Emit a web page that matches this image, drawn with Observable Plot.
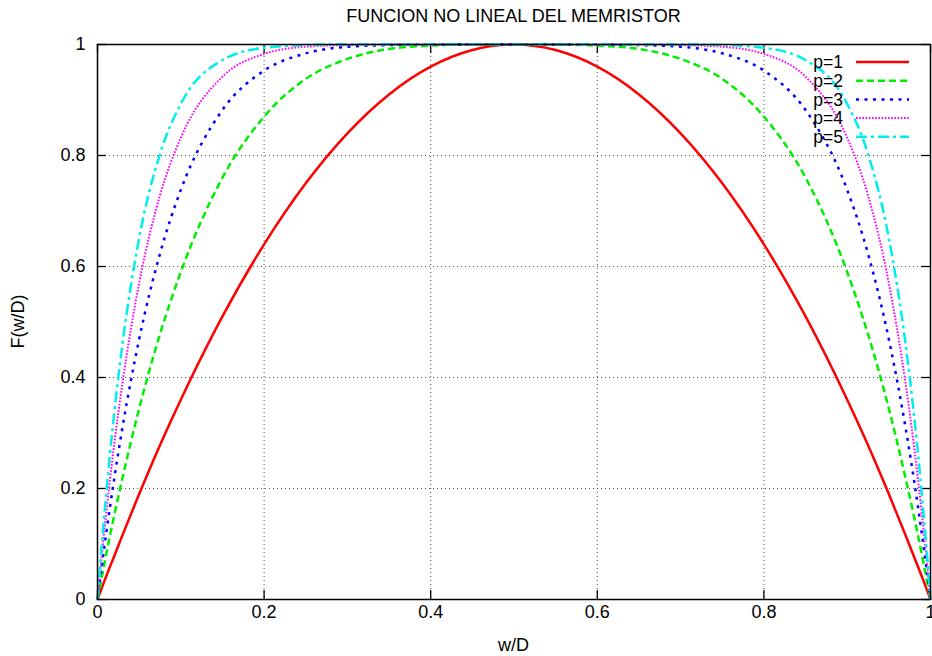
<!DOCTYPE html>
<html>
<head>
<meta charset="utf-8">
<script src="https://cdn.jsdelivr.net/npm/d3@7"></script>
<script src="https://cdn.jsdelivr.net/npm/@observablehq/plot@0.6"></script>
<style>
  html, body { margin: 0; padding: 0; background: #fff; }
  #chart { position: relative; width: 932px; height: 656px; }
  svg { font-family: "Liberation Sans", Arial, sans-serif; }
</style>
</head>
<body>
<div id="chart"></div>
<script>
// ---- data ----
const title = "FUNCION NO LINEAL DEL MEMRISTOR";
const xLabel = "w/D";
const yLabel = "F(w/D)";
const seriesNames = ["p=1", "p=2", "p=3", "p=4", "p=5"];
const xTicks = [0, 0.2, 0.4, 0.6, 0.8, 1];
const yTicks = [0, 0.2, 0.4, 0.6, 0.8, 1];
const gridTicks = [0.2, 0.4, 0.6, 0.8];

const xs = [0, 0.005, 0.01, 0.02, 0.03, 0.05, 0.075, 0.1, 0.15, 0.2, 0.25, 0.3, 0.35, 0.4, 0.45, 0.5,
            0.55, 0.6, 0.65, 0.7, 0.75, 0.8, 0.85, 0.9, 0.925, 0.95, 0.97, 0.98, 0.99, 0.995, 1];
const p1 = [0, 0.020, 0.040, 0.078, 0.116, 0.190, 0.278, 0.360, 0.510, 0.640, 0.750, 0.840, 0.910, 0.960, 0.990, 1,
            0.990, 0.960, 0.910, 0.840, 0.750, 0.640, 0.510, 0.360, 0.278, 0.190, 0.116, 0.078, 0.040, 0.020, 0];
const p2 = [0, 0.039, 0.078, 0.151, 0.219, 0.344, 0.478, 0.590, 0.760, 0.870, 0.938, 0.974, 0.992, 0.998, 1.000, 1,
            1.000, 0.998, 0.992, 0.974, 0.938, 0.870, 0.760, 0.590, 0.478, 0.344, 0.219, 0.151, 0.078, 0.039, 0];
const p3 = [0, 0.059, 0.114, 0.217, 0.310, 0.469, 0.623, 0.738, 0.882, 0.953, 0.984, 0.996, 0.999, 1.000, 1.000, 1,
            1.000, 1.000, 0.999, 0.996, 0.984, 0.953, 0.882, 0.738, 0.623, 0.469, 0.310, 0.217, 0.114, 0.059, 0];
const p4 = [0, 0.077, 0.149, 0.279, 0.390, 0.570, 0.728, 0.832, 0.942, 0.983, 0.996, 0.999, 1.000, 1.000, 1.000, 1,
            1.000, 1.000, 1.000, 0.999, 0.996, 0.983, 0.942, 0.832, 0.728, 0.570, 0.390, 0.279, 0.149, 0.077, 0];
const p5 = [0, 0.096, 0.183, 0.335, 0.461, 0.651, 0.803, 0.893, 0.972, 0.994, 0.999, 1.000, 1.000, 1.000, 1.000, 1,
            1.000, 1.000, 1.000, 1.000, 0.999, 0.994, 0.972, 0.893, 0.803, 0.651, 0.461, 0.335, 0.183, 0.096, 0];
const seriesValues = [p1, p2, p3, p4, p5];

// ---- styles ----
const colors = ["#ff0000", "#00ee00", "#0000ff", "#ff00ff", "#00eeee"];
const dashes = [null, "7,4", "3,5.5", "1.6,1.6", "11,4,3,4"];
const widths = [2.5, 2.5, 2.5, 2, 2.5];
const FS = 18;

const W = 932, H = 656;
const M = {top: 44, right: 2, bottom: 57, left: 97};
const innerH = H - M.top - M.bottom;
const innerW = W - M.left - M.right;

const data = [];
seriesNames.forEach((name, i) => {
  xs.forEach((x, j) => data.push({series: name, x, y: seriesValues[i][j]}));
});

const tickLen = 9;
const marks = [
  Plot.gridX(gridTicks, {stroke: "#555", strokeOpacity: 1, strokeWidth: 1, strokeDasharray: "1,3"}),
  Plot.gridY(gridTicks, {stroke: "#555", strokeOpacity: 1, strokeWidth: 1, strokeDasharray: "1,3"}),
  // inward ticks on all four sides
  Plot.tickX(xTicks, {x: d => d, insetTop: innerH - tickLen, stroke: "#000", strokeWidth: 1.3}),
  Plot.tickX(xTicks, {x: d => d, insetBottom: innerH - tickLen, stroke: "#000", strokeWidth: 1.3}),
  Plot.tickY(yTicks, {y: d => d, insetRight: innerW - tickLen, stroke: "#000", strokeWidth: 1.3}),
  Plot.tickY(yTicks, {y: d => d, insetLeft: innerW - tickLen, stroke: "#000", strokeWidth: 1.3}),
  Plot.axisX({ticks: xTicks, tickSize: 0, tickPadding: 6, fontSize: FS, label: null, tickFormat: d => String(d)}),
  Plot.axisY({ticks: yTicks, tickSize: 0, tickPadding: 12, fontSize: FS, label: null, tickFormat: d => String(d)}),
];
seriesNames.forEach((name, i) => {
  marks.push(Plot.line(data.filter(d => d.series === name), {
    x: "x", y: "y", curve: "monotone-x",
    stroke: colors[i], strokeWidth: widths[i],
    strokeDasharray: dashes[i], strokeLinecap: "butt"
  }));
});
marks.push(Plot.frame({stroke: "#000", strokeWidth: 1.5}));

const chart = Plot.plot({
  width: W, height: H,
  marginTop: M.top, marginRight: M.right, marginBottom: M.bottom, marginLeft: M.left,
  x: {domain: [0, 1]},
  y: {domain: [0, 1]},
  style: {fontFamily: "'Liberation Sans', Arial, sans-serif", fontSize: FS + "px", color: "#000", background: "#fff", overflow: "hidden"},
  marks
});
document.getElementById("chart").appendChild(chart);

// titles and legend overlaid on the SVG
const svg = d3.select(chart);
svg.append("text")
  .attr("x", M.left + innerW / 2).attr("y", 21.5)
  .attr("text-anchor", "middle").attr("font-size", FS).attr("fill", "#000")
  .text(title);
svg.append("text")
  .attr("x", M.left + innerW / 2).attr("y", 651)
  .attr("text-anchor", "middle").attr("font-size", FS).attr("fill", "#000")
  .text(xLabel);
svg.append("text")
  .attr("transform", `translate(24,${M.top + innerH / 2}) rotate(-90)`)
  .attr("text-anchor", "middle").attr("font-size", FS).attr("fill", "#000")
  .text(yLabel);

const leg = svg.append("g");
seriesNames.forEach((name, i) => {
  const cy = 62 + i * 18.7;
  leg.append("text")
    .attr("x", 843).attr("y", cy).attr("dy", "0.36em")
    .attr("text-anchor", "end").attr("font-size", 17.5).attr("fill", "#000")
    .text(name);
  leg.append("line")
    .attr("x1", 856).attr("x2", 909).attr("y1", cy).attr("y2", cy)
    .attr("stroke", colors[i]).attr("stroke-width", widths[i])
    .attr("stroke-dasharray", dashes[i]);
});
</script>
</body>
</html>
